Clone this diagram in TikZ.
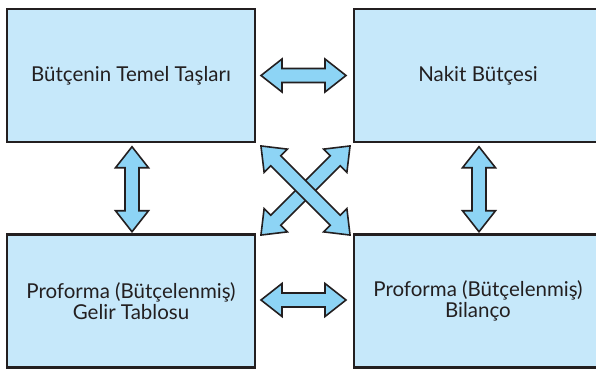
\documentclass[tikz,border=0pt]{standalone}
\usepackage{fontspec}
\setmainfont{Lato}
\usetikzlibrary{calc}
\definecolor{boxfill}{HTML}{C6E8FA}
\definecolor{arrowfill}{HTML}{8DD4F5}
\definecolor{edge}{HTML}{231F20}
\tikzset{
  box/.style={draw=edge, line width=2.8pt, fill=boxfill, minimum width=248pt, minimum height=133pt, inner sep=0pt, align=center, font=\fontsize{20.5}{21}\selectfont, text=edge},
  arrowbody/.style={draw=edge, line width=1.6pt, fill=arrowfill, line join=miter},
  dblarrow/.pic={
    \draw[arrowbody] (-#1,0) -- (-#1+21,16.5) -- (-#1+21,7) -- (#1-21,7) -- (#1-21,16.5) -- (#1,0)
      -- (#1-21,-16.5) -- (#1-21,-7) -- (-#1+21,-7) -- (-#1+21,-16.5) -- cycle;
  }
}
\begin{document}
\begin{tikzpicture}[x=1pt,y=1pt]
\clip (0,0) rectangle (596,370);
\fill[white] (0,0) rectangle (596,370);
\node[box] (tl) at (131,294.5) {Bütçenin Temel Taşları};
\node[box] (tr) at (478,294.5) {Nakit Bütçesi};
\node[box] (bl) at (131,69) {Proforma (Bütçelenmiş)\\Gelir Tablosu};
\node[box] (br) at (478,69) {Proforma (Bütçelenmiş)\\Bilanço};
\pic at ($(tl.east)!0.5!(tr.west)+(-1,0)$) {dblarrow=42.5};
\pic at ($(bl.east)!0.5!(br.west)+(-1,1)$) {dblarrow=42.5};
\pic[rotate=90] at ($(tl.south)!0.5!(bl.north)+(1,-1)$) {dblarrow=42.5};
\pic[rotate=90] at ($(tr.south)!0.5!(br.north)+(1,-1)$) {dblarrow=42.5};
\coordinate (mid) at (305.5,179.5);
\pic[rotate=45] at (mid) {dblarrow=63};
\pic[rotate=-45] at (mid) {dblarrow=63};
\end{tikzpicture}
\end{document}
